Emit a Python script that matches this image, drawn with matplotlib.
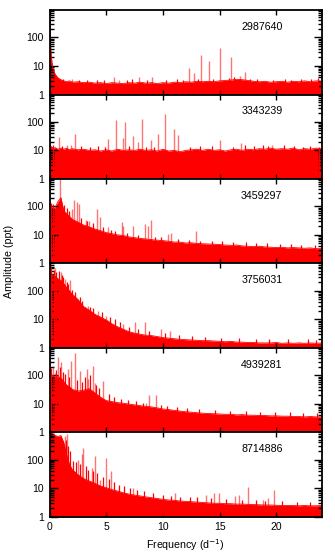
#!/usr/bin/env python
"""
Amplitude spectra of six Kepler stars, stacked panels sharing the frequency axis.

- Writes: out.png
"""

import matplotlib
matplotlib.use("Agg")
import matplotlib.pyplot as plt
from matplotlib.ticker import LogLocator, NullFormatter, FixedLocator

plt.rcParams["font.family"] = ["Liberation Sans", "DejaVu Sans"]

# star identifiers, top to bottom
stars = ["2987640", "3343239", "3459297", "3756031", "4939281", "8714886"]

freq_knots = [0, 0.05, 0.1, 0.2, 0.3, 0.5, 0.75, 1.0, 1.25, 1.5, 1.75, 2.0,
              2.5, 3, 3.5, 4, 4.5, 5, 5.5, 6, 6.5, 7, 7.5, 8, 8.5, 9, 9.5,
              10, 10.5, 11, 11.5, 12, 12.5, 13, 13.5, 14, 14.5, 15, 15.5,
              16, 16.5, 17, 17.5, 18, 18.5, 19, 19.5, 20, 20.5, 21, 21.5,
              22, 22.5, 23, 23.5, 24]

# noise envelope (ppt) per star
env_2987640 = [700, 250, 40, 14, 8, 5, 3.8, 3.3, 3.0, 2.8, 3.0, 2.7,
               2.8, 2.6, 2.7, 2.5, 2.6, 2.4, 2.6, 2.5, 2.4, 2.6, 2.5, 2.7, 2.5, 2.6, 2.4,
               2.6, 2.5, 2.7, 2.6, 2.8, 2.7, 2.9, 2.8, 2.9, 2.8, 3.0, 3.1,
               3.2, 3.4, 3.3, 3.1, 2.9, 2.8, 2.9, 2.7, 2.8, 2.9, 2.7, 2.9,
               2.8, 3.0, 2.8, 3.0, 2.9]
env_3343239 = [20, 16, 14, 13, 12, 12.5, 11, 12, 11, 12, 10.5, 11.5,
               10.5, 11, 10, 10.5, 9.5, 10.5, 9.5, 11, 10, 10.5, 10, 11, 10, 10.5, 9.5,
               11, 9.5, 10, 9, 10, 10.5, 11, 10, 11, 10, 10.5, 9.5,
               10.5, 11, 10, 11, 10.5, 11.5, 11, 12, 11, 11.5, 11, 12,
               10.5, 11.5, 11, 12, 11.5]
env_3459297 = [110, 95, 100, 90, 80, 90, 150, 200, 70, 55, 45, 35,
               28, 22, 19, 16, 14, 12, 11, 10, 9.5, 8.5, 8, 7.5, 7.2, 6.8, 6.5,
               6.3, 6, 5.6, 5.6, 5.2, 5.3, 5, 4.9, 4.8, 4.7, 4.6, 4.4,
               4.3, 4.4, 4.1, 4.0, 3.9, 4.0, 3.8, 3.7, 3.6, 3.7, 3.5, 3.6,
               3.5, 3.4, 3.5, 3.3, 3.3]
env_3756031 = [500, 450, 400, 380, 350, 320, 260, 230, 180, 130, 100, 75,
               50, 28, 21, 15, 12, 9.5, 7, 5.5, 4.5, 3.7, 3.3, 3.0, 2.8, 2.7, 2.5,
               2.3, 2.2, 2.1, 2.0, 1.95, 1.9, 1.85, 1.8, 1.8, 1.75, 1.7, 1.65,
               1.7, 1.6, 1.6, 1.55, 1.55, 1.5, 1.5, 1.5, 1.55, 1.45, 1.5, 1.45,
               1.5, 1.45, 1.5, 1.45, 1.5]
env_4939281 = [80, 70, 75, 90, 100, 85, 90, 80, 60, 45, 40, 32,
               28, 30, 34, 24, 17, 13, 12, 11, 10.5, 9.8, 9.2, 8.6, 8.2, 7.8, 7.2,
               6.6, 6.3, 5.9, 5.6, 5.3, 5.1, 4.9, 4.7, 4.6, 4.5, 4.4, 4.3,
               4.3, 4.1, 4.2, 4.0, 4.0, 3.9, 3.9, 3.8, 3.8, 3.7, 3.7, 3.6,
               3.6, 3.5, 3.6, 3.5, 3.5]
env_8714886 = [900, 900, 900, 850, 800, 700, 650, 700, 400, 150, 70, 45,
               30, 22, 18, 15, 12, 10.5, 9, 8, 7, 6.3, 5.8, 5.4, 5, 4.7, 4.4,
               4.1, 3.9, 3.8, 3.6, 3.5, 3.4, 3.3, 3.2, 3.1, 3.0, 3.0, 2.9,
               2.9, 2.8, 2.8, 2.75, 2.7, 2.65, 2.6, 2.6, 2.55, 2.5, 2.5, 2.5,
               2.45, 2.5, 2.45, 2.45, 2.5]

# small noise spikes poking above the envelope (solid red)
grass_f_2987640 = [1.2, 2.6, 3.3, 4.2, 4.8, 6.8, 7.3, 8.6, 10.3, 11.2, 11.8, 13.1,
                   14.4, 15.8, 16.3, 17.7, 18.3, 19.7, 20.8, 21.3, 22.2, 23.1, 23.7]
grass_a_2987640 = [3.6, 3.3, 3.2, 3.1, 3.3, 3.1, 3.4, 3.2, 3.3, 3.4, 3.2, 3.4,
                   3.5, 3.8, 4.0, 3.6, 3.4, 3.3, 3.4, 3.2, 3.6, 3.4, 3.7]

grass_f_3343239 = [0.3, 1.1, 2.8, 3.6, 4.3, 4.9, 7.0, 8.5, 9.2, 12.4, 13.3, 14.3,
                   16.2, 17.2, 18.0, 18.8, 19.3, 20.7, 21.6, 22.4, 23.0, 23.8]
grass_a_3343239 = [15, 14, 14, 13, 14, 13, 14, 13.5, 13, 13.5, 14, 14.5,
                   13.5, 15, 14, 15, 14, 15, 14, 13.5, 14.5, 13.5]

grass_f_3459297 = [0.1, 0.3, 1.3, 1.5, 1.7, 2.8, 3.3, 3.8, 4.7, 5.4, 5.8, 6.8,
                   7.8, 9.3, 9.8, 11.3, 12.3, 13.3, 14.3, 15.2, 16.2, 17.3, 18.2,
                   19.2, 20.3, 21.3, 22.2, 23.4]
grass_a_3459297 = [130, 120, 110, 90, 70, 40, 30, 25, 19, 15, 14, 12,
                   10, 8.5, 8.5, 7, 6.5, 6.2, 6, 6, 5.5, 5.5, 5,
                   5, 4.8, 4.7, 4.6, 4.5]

grass_f_3756031 = [0.1, 0.35, 0.6, 0.8, 1.1, 1.2, 1.5, 1.65, 2.0, 2.2, 2.7, 2.9,
                   3.6, 3.8, 4.6, 5.3, 5.8, 6.2, 7.0, 7.8, 8.8, 10.2, 11.4, 12.6,
                   13.7, 15.1, 16.7, 18.2, 19.4, 21.0, 22.8, 23.5]
grass_a_3756031 = [700, 550, 450, 500, 350, 300, 200, 170, 110, 90, 60, 45,
                   28, 25, 18, 12, 10, 8, 5.5, 4.5, 3.8, 3.2, 2.8, 2.6,
                   2.5, 2.3, 2.2, 2.1, 2.0, 2.0, 2.0, 1.9]

grass_f_4939281 = [0.05, 0.15, 0.6, 0.9, 1.2, 1.4, 1.75, 2.4, 2.9, 3.1, 3.55, 4.1,
                   4.4, 5.2, 5.7, 6.3, 6.9, 7.6, 8.2, 9.8, 10.4, 11.2, 12.1, 13.2,
                   14.6, 15.9, 17.3, 18.6, 19.9, 21.2, 22.4, 23.6]
grass_a_4939281 = [150, 180, 150, 200, 130, 110, 90, 70, 60, 90, 100, 45,
                   35, 22, 18, 15, 14, 13, 11, 9, 8.5, 8, 7, 6.5,
                   6, 5.8, 5.5, 5.3, 5, 5, 4.8, 4.8]

grass_f_8714886 = [1.45, 1.65, 1.8, 2.1, 2.3, 2.65, 3.2, 3.4, 3.85, 4.2, 4.7, 5.2,
                   5.7, 6.1, 6.6, 7.1, 7.7, 8.3, 9.1, 10.0, 10.7, 11.5, 12.4, 13.0,
                   14.2, 15.6, 17.0, 18.2, 19.0, 20.5, 21.8, 23.0]
grass_a_8714886 = [500, 300, 200, 90, 80, 70, 60, 45, 40, 35, 25, 22,
                   16, 13, 12, 10, 9, 8, 7, 6, 5.5, 5, 5, 4.8,
                   4.5, 4.2, 4, 3.8, 3.6, 3.5, 3.4, 3.4]

# individual peaks: frequency (d^-1) and amplitude (ppt)
pk_f_2987640 = [2.0, 5.67, 6.1, 7.9, 9.0, 12.28, 12.75, 13.4, 14.1, 15.02, 16.05, 16.8, 17.28]
pk_a_2987640 = [3.5, 4.2, 3.2, 4.2, 4.0, 8.7, 5.5, 24, 15, 42, 20, 4.4, 6]

pk_f_3343239 = [0.82, 1.5, 1.85, 2.23, 5.17, 5.9, 6.46, 6.64, 7.4, 7.8, 8.14, 8.93,
                9.58, 10.17, 11.0, 11.37, 15.02, 16.9, 19.6]
pk_a_3343239 = [30, 16, 15, 38, 26, 118, 28, 100, 32, 20, 130, 23,
                38, 187, 58, 34, 23, 18.6, 16]

pk_f_3459297 = [0.6, 0.91, 1.94, 2.17, 2.38, 2.59, 3.17, 3.5, 4.2, 4.44, 5.17, 6.35,
                6.5, 7.4, 8.46, 8.7, 8.93, 10.46, 10.75, 12.96]
pk_a_3459297 = [95, 1000, 83, 163, 142, 124, 34, 30, 83, 42, 19, 28,
                20, 21, 24, 20, 32, 11, 12, 14]

pk_f_3756031 = [0.2, 0.47, 1.0, 1.35, 1.79, 2.38, 3.1, 3.4, 4.3, 5.0, 6.5, 7.58,
                8.4, 9.8, 10.6]
pk_a_3756031 = [400, 600, 460, 265, 230, 40, 26, 30, 20, 13.5, 6.9, 7.8,
                7.8, 4.6, 4]

pk_f_4939281 = [0.32, 0.47, 0.76, 1.0, 1.64, 1.88, 2.23, 2.67, 3.26, 3.4, 3.79, 3.99,
                4.73, 8.55, 8.76, 9.37]
pk_a_4939281 = [212, 123, 420, 280, 163, 320, 600, 142, 163, 72, 212, 55,
                63, 10.8, 20, 20]

pk_f_8714886 = [1.38, 1.55, 2.52, 2.82, 2.97, 3.7, 3.99, 4.44, 4.94, 5.45, 7.4, 11.05,
                13.84, 14.5, 14.93, 16.4, 16.7, 17.51, 18.8, 19.3, 19.8]
pk_a_8714886 = [680, 780, 100, 155, 265, 52, 133, 20, 117, 40, 10, 6.8,
                6, 6.8, 6.8, 5.2, 6, 11, 4, 4.6, 9]

envelopes = [env_2987640, env_3343239, env_3459297,
             env_3756031, env_4939281, env_8714886]
grass_freqs = [grass_f_2987640, grass_f_3343239, grass_f_3459297,
               grass_f_3756031, grass_f_4939281, grass_f_8714886]
grass_amps = [grass_a_2987640, grass_a_3343239, grass_a_3459297,
              grass_a_3756031, grass_a_4939281, grass_a_8714886]
peak_freqs = [pk_f_2987640, pk_f_3343239, pk_f_3459297,
              pk_f_3756031, pk_f_4939281, pk_f_8714886]
peak_amps = [pk_a_2987640, pk_a_3343239, pk_a_3459297,
             pk_a_3756031, pk_a_4939281, pk_a_8714886]


def style_axis(ax, bottom):
    ax.set_yscale("log")
    ax.set_xlim(0, 24)
    ax.set_ylim(1, 900)
    ax.yaxis.set_major_locator(FixedLocator([1, 10, 100]))
    ax.yaxis.set_minor_locator(LogLocator(base=10, subs=range(2, 10)))
    ax.yaxis.set_minor_formatter(NullFormatter())
    ax.set_yticklabels(["1", "10", "100"])
    ax.xaxis.set_major_locator(FixedLocator([0, 5, 10, 15, 20]))
    ax.tick_params(which="both", direction="in", top=True, right=True,
                   labelsize=7.5, width=1.0, color="black")
    ax.tick_params(axis="y", which="major", length=6, pad=4)
    ax.tick_params(axis="y", which="minor", length=3)
    ax.tick_params(axis="x", which="major", length=3.5, pad=4,
                   labelbottom=bottom)
    for sp in ax.spines.values():
        sp.set_linewidth(1.3)
        sp.set_zorder(5)


def main():
    fig, axes = plt.subplots(6, 1, figsize=(3.35, 5.57), dpi=100, sharex=True)
    fig.subplots_adjust(left=0.148, right=0.960, top=0.982, bottom=0.072,
                        hspace=0)

    for i, ax in enumerate(axes):
        env = envelopes[i]
        ax.fill_between(freq_knots, 1, env, color="red", lw=0)
        ax.plot(freq_knots, env, color="red", lw=0.6)
        ax.vlines(grass_freqs[i], 1, grass_amps[i], color="red", lw=0.9)
        ax.vlines(peak_freqs[i], 1, peak_amps[i], color="red",
                  alpha=0.55, lw=1.0)
        ax.text(0.78, 0.80, stars[i], transform=ax.transAxes,
                ha="center", va="center", fontsize=7.7)
        style_axis(ax, bottom=(i == len(axes) - 1))

    fig.text(0.027, 0.53, "Amplitude (ppt)", rotation=90,
             ha="center", va="center", fontsize=7.7)
    fig.text(0.555, 0.0215, "Frequency (d$^{-1}$)",
             ha="center", va="center", fontsize=7.7)

    fig.savefig("out.png", dpi=100)
    plt.close(fig)


if __name__ == "__main__":
    main()
